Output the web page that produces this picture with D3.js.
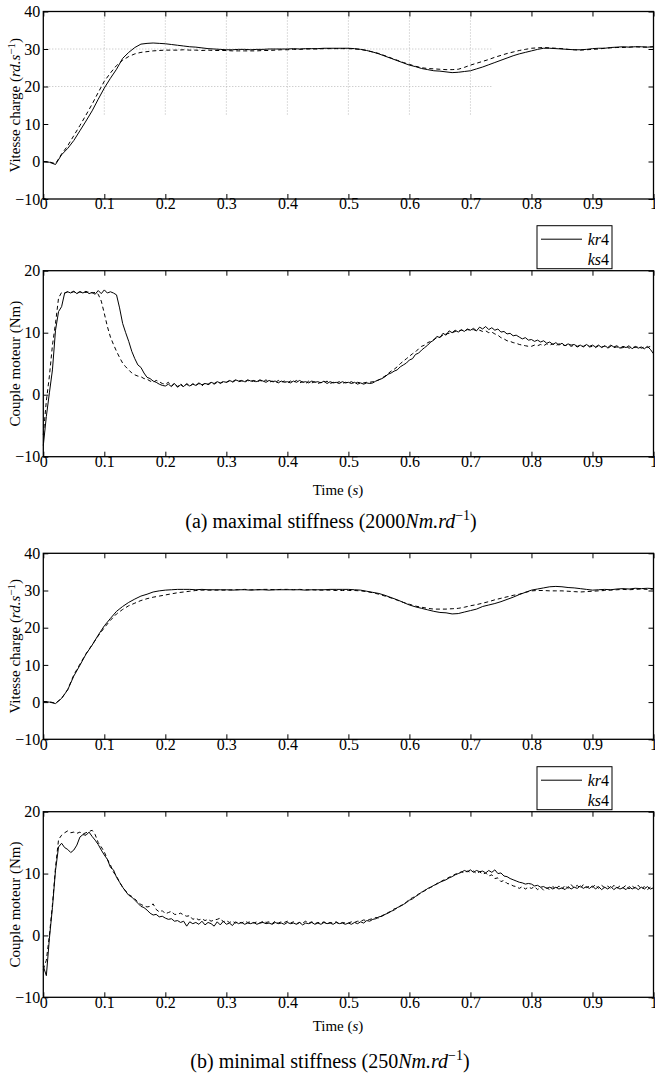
<html>
  <head>
    <meta charset="utf-8">
    <title>Vitesse charge / Couple moteur</title>
    <script type="text/javascript" src="https://cdn.jsdelivr.net/npm/d3@7/dist/d3.min.js" charset="utf-8"></script>
    <style>
      body { margin: 0; background: white; }
      svg text { font-family: "Liberation Serif", "DejaVu Serif", serif; fill: black; }
    </style>
  </head>
  <body>
    <svg id="fig" width="655" height="1077"></svg>
    <script type="text/javascript">
      // ticks
      var timeTicks = [0, 0.1, 0.2, 0.3, 0.4, 0.5, 0.6, 0.7, 0.8, 0.9, 1];
      var timeTickLabels = ["0", "0.1", "0.2", "0.3", "0.4", "0.5", "0.6", "0.7", "0.8", "0.9", "1"];
      var speedTicks = [-10, 0, 10, 20, 30, 40];
      var torqueTicks = [-10, 0, 10, 20];

      // sample steps (s) of the recorded signals
      var speedStep = 0.01;
      var torqueStep = 0.005;

      // odd partial grid of the first plot
      var gridTimes = [0.1, 0.2, 0.3, 0.4, 0.5, 0.6, 0.7];
      var gridSpeeds = [20, 30];
      var gridTimeEnd = 0.737;
      var gridSpeedStart = 12;

      var seriesNames = ["kr4", "ks4"];

      // (a) maximal stiffness - load speed, every 0.01 s
      var speedKrMax = [
        0, -0.2, -0.8, 1.8, 3.5, 5.6, 8.2, 10.8, 13.5, 16.6,
        19.6, 22.2, 24.6, 27.5, 29.1, 30.4, 31.3, 31.5, 31.6, 31.5,
        31.4, 31.2, 31.0, 30.8, 30.6, 30.5, 30.3, 30.1, 30.0, 29.9,
        29.8, 29.8, 29.9, 29.9, 29.8, 29.9, 29.9, 30.0, 30.0, 30.0,
        30.0, 30.1, 30.0, 30.1, 30.1, 30.1, 30.2, 30.2, 30.2, 30.2,
        30.2, 30.1, 29.9, 29.6, 29.2, 28.7, 28.1, 27.5, 26.9, 26.3,
        25.7, 25.3, 24.8, 24.5, 24.2, 24.1, 23.9, 23.7, 23.8, 24.0,
        24.2, 24.7, 25.2, 25.8, 26.4, 27.0, 27.6, 28.2, 28.7, 29.1,
        29.5, 29.9, 30.2, 30.2, 30.1, 30.0, 29.9, 29.8, 29.8, 29.9,
        30.1, 30.2, 30.2, 30.4, 30.5, 30.6, 30.5, 30.6, 30.6, 30.5,
        30.6];
      var speedKsMax = [
        0, -0.1, -0.6, 2.0, 4.2, 6.9, 9.6, 12.4, 15.3, 18.4,
        21.4, 23.6, 25.6, 27.0, 28.0, 28.7, 29.1, 29.3, 29.5, 29.6,
        29.7, 29.7, 29.7, 29.8, 29.7, 29.7, 29.6, 29.7, 29.6, 29.6,
        29.6, 29.5, 29.5, 29.5, 29.5, 29.5, 29.6, 29.6, 29.7, 29.8,
        29.8, 29.9, 29.9, 30.0, 30.0, 30.0, 30.1, 30.1, 30.1, 30.1,
        30.1, 30.0, 29.9, 29.6, 29.2, 28.8, 28.2, 27.6, 27.0, 26.4,
        25.9, 25.4, 25.0, 24.8, 24.7, 24.6, 24.5, 24.5, 24.6, 25.1,
        25.7, 26.2, 26.7, 27.2, 27.8, 28.3, 28.8, 29.2, 29.6, 29.9,
        30.2, 30.3, 30.4, 30.3, 30.2, 30.1, 29.9, 29.8, 29.7, 29.8,
        29.9, 30.0, 30.2, 30.3, 30.4, 30.4, 30.5, 30.6, 30.5, 30.5,
        30.6];

      // (a) maximal stiffness - motor torque, every 0.005 s
      var torqueKrMax = [
        -8.2, -3.5, 0.3, 4.0, 10.4, 13.4, 14.2, 16.4, 16.6, 16.4,
        16.7, 16.3, 16.6, 16.4, 16.7, 16.3, 16.5, 16.2, 16.8, 16.3,
        16.9, 16.4, 16.6, 16.4, 16.1, 14.0, 11.5, 10.0, 8.6, 7.0,
        5.8, 4.8, 4.4, 3.5, 2.8, 2.6, 2.2, 2.0, 1.7, 1.5,
        1.4, 1.7, 1.3, 1.8, 1.2, 1.6, 1.3, 1.8, 1.4, 1.7,
        1.5, 1.9, 1.6, 1.8, 1.7, 2.0, 1.8, 2.1, 1.9, 2.1,
        2.0, 2.3, 2.1, 2.4, 2.2, 2.3, 2.1, 2.4, 2.2, 2.3,
        2.1, 2.4, 2.2, 2.0, 2.3, 2.1, 2.2, 1.9, 2.2, 2.0,
        2.1, 1.9, 2.2, 2.0, 2.3, 2.0, 2.1, 1.9, 2.2, 2.0,
        2.1, 1.9, 2.2, 1.8, 2.1, 1.9, 2.0, 1.8, 2.1, 1.9,
        2.0, 1.8, 2.0, 1.7, 1.9, 1.7, 1.9, 1.8, 1.9, 2.2,
        2.4, 2.6, 2.9, 3.3, 3.5, 3.8, 4.0, 4.5, 4.8, 5.1,
        5.6, 5.8, 6.5, 6.7, 7.2, 7.6, 8.0, 8.5, 8.8, 9.4,
        9.2, 9.9, 9.6, 10.3, 10.0, 10.4, 10.1, 10.5, 10.2, 10.6,
        10.4, 10.7, 10.3, 10.9, 10.6, 11.0, 10.5, 10.8, 10.4, 10.6,
        10.1, 10.2, 9.8, 9.9, 9.5, 9.6, 9.3, 9.0, 9.2, 8.8,
        8.9, 8.6, 8.8, 8.5, 8.7, 8.3, 8.5, 8.1, 8.4, 8.0,
        8.3, 7.9, 8.2, 8.0, 8.1, 7.8, 8.0, 7.7, 8.1, 7.8,
        8.0, 7.7, 8.0, 7.6, 7.9, 7.6, 8.0, 7.7, 7.9, 7.5,
        7.8, 7.6, 7.9, 7.4, 7.8, 7.5, 7.7, 7.4, 7.8, 7.3,
        6.6];
      var torqueKsMax = [
        -6.5, -1.0, 3.0, 8.0, 11.5, 15.6, 16.5, 16.4, 16.6, 16.5,
        16.6, 16.4, 16.6, 16.5, 16.5, 16.6, 16.4, 16.5, 16.2, 15.1,
        13.1, 11.0, 9.3, 8.1, 7.0, 6.0, 5.1, 4.5, 4.0, 3.5,
        3.2, 3.0, 2.9, 2.6, 2.5, 2.2, 2.0, 2.3, 2.1, 1.8,
        1.7, 2.0, 1.4, 1.9, 1.3, 1.8, 1.2, 1.7, 1.3, 1.8,
        1.5, 1.8, 1.4, 1.9, 1.6, 1.9, 1.7, 2.0, 1.8, 2.1,
        2.0, 2.2, 2.0, 2.3, 2.1, 2.2, 2.0, 2.3, 2.1, 2.2,
        2.0, 2.3, 2.1, 2.4, 2.0, 2.2, 1.9, 2.3, 2.0, 2.2,
        1.9, 2.2, 2.0, 2.3, 1.9, 2.1, 1.8, 2.2, 1.9, 2.1,
        1.8, 2.0, 1.9, 2.2, 1.8, 2.0, 1.9, 2.1, 1.8, 2.0,
        1.9, 2.1, 1.8, 2.0, 1.9, 1.9, 2.0, 2.0, 2.1, 2.2,
        2.4, 2.7, 3.0, 3.4, 3.8, 4.1, 4.5, 5.0, 5.4, 5.8,
        6.2, 6.6, 6.9, 7.4, 7.8, 8.0, 8.4, 8.6, 8.9, 9.2,
        9.3, 9.6, 9.8, 9.9, 10.0, 10.2, 10.2, 10.4, 10.3, 10.5,
        10.4, 10.5, 10.3, 10.4, 10.2, 10.3, 10.0, 10.1, 9.8, 9.6,
        9.2, 9.0, 8.7, 8.6, 8.4, 8.3, 8.1, 8.0, 7.9, 7.8,
        7.8, 8.0, 7.9, 8.1, 7.9, 8.2, 8.0, 8.2, 7.9, 8.2,
        8.1, 7.9, 8.1, 7.8, 8.0, 7.7, 7.9, 7.8, 8.0, 7.7,
        7.8, 7.6, 7.9, 7.7, 7.8, 7.5, 7.8, 7.6, 7.7, 7.5,
        7.6, 7.8, 7.5, 7.7, 7.6, 7.8, 7.5, 7.7, 7.6, 7.8,
        7.7];

      // (b) minimal stiffness - load speed, every 0.01 s
      var speedKrMin = [
        0.2, 0.0, -0.4, 1.0, 3.3, 7.0, 9.9, 12.9, 15.3, 18.0,
        20.5, 22.5, 24.4, 25.7, 26.8, 27.7, 28.5, 29.0, 29.6, 29.9,
        30.1, 30.2, 30.3, 30.3, 30.3, 30.2, 30.3, 30.2, 30.2, 30.2,
        30.2, 30.1, 30.2, 30.2, 30.1, 30.2, 30.2, 30.1, 30.2, 30.2,
        30.2, 30.2, 30.2, 30.1, 30.2, 30.2, 30.2, 30.3, 30.3, 30.3,
        30.3, 30.2, 30.1, 29.8, 29.5, 29.2, 28.7, 28.1, 27.5, 26.8,
        26.1, 25.6, 25.2, 24.8, 24.4, 24.1, 24.0, 23.7, 23.8, 24.2,
        24.6, 25.0, 25.7, 26.1, 26.5, 27.0, 27.6, 28.2, 28.9, 29.5,
        30.1, 30.4, 30.7, 31.0, 31.1, 31.0, 30.8, 30.7, 30.5, 30.3,
        30.1, 30.2, 30.3, 30.2, 30.4, 30.5, 30.4, 30.6, 30.5, 30.6,
        30.5];
      var speedKsMin = [
        0.1, 0.1, -0.3, 1.0, 3.4, 7.3, 10.2, 13.0, 15.4, 17.8,
        20.0, 22.0, 23.7, 24.9, 25.9, 26.6, 27.3, 27.8, 28.2, 28.5,
        28.8, 29.1, 29.4, 29.6, 29.8, 30.0, 30.1, 30.1, 30.1, 30.1,
        30.1, 30.2, 30.2, 30.3, 30.2, 30.2, 30.3, 30.3, 30.2, 30.3,
        30.3, 30.2, 30.3, 30.2, 30.2, 30.1, 30.1, 30.1, 30.0, 30.0,
        30.0, 30.0, 29.9, 29.7, 29.4, 29.0, 28.5, 28.0, 27.4, 26.8,
        26.3, 25.8, 25.5, 25.2, 25.0, 25.0, 25.0, 25.1, 25.2, 25.5,
        25.9, 26.2, 26.6, 27.0, 27.5, 27.9, 28.3, 28.7, 29.0, 29.5,
        29.9, 30.0, 30.0, 29.9, 29.9, 29.9, 29.8, 29.7, 29.6, 29.7,
        29.8, 29.9, 30.0, 30.1, 30.2, 30.3, 30.2, 30.3, 30.4, 30.3,
        30.4];

      // (b) minimal stiffness - motor torque, every 0.005 s
      var torqueKrMin = [
        -5.0, -6.5, -0.5, 4.5, 10.5, 14.3, 14.9, 14.2, 13.9, 13.4,
        13.8, 14.6, 15.9, 16.3, 16.2, 16.7, 16.0, 15.4, 14.7, 13.8,
        13.0, 12.3, 11.0, 10.6, 9.4, 8.6, 7.8, 7.1, 6.5, 6.2,
        5.7, 5.2, 4.7, 4.5, 4.1, 3.6, 3.3, 3.4, 3.0, 3.1,
        2.8, 2.6, 2.7, 2.3, 2.4, 2.1, 2.3, 1.5, 2.2, 1.9,
        2.1, 1.8, 2.3, 1.7, 2.1, 1.9, 1.5, 2.2, 1.7, 2.3,
        1.8, 2.0, 1.6, 2.2, 1.9, 2.1, 1.8, 2.0, 1.9, 2.1,
        1.8, 2.0, 2.1, 1.9, 2.0, 1.8, 2.1, 1.9, 2.0, 1.8,
        2.1, 1.9, 2.0, 1.8, 2.1, 1.7, 2.0, 1.9, 2.1, 1.8,
        2.0, 1.8, 2.1, 1.9, 2.0, 1.8, 2.1, 1.9, 2.0, 1.8,
        2.0, 1.8, 2.1, 1.9, 2.2, 2.0, 2.4, 2.3, 2.6, 2.7,
        3.0, 3.1, 3.4, 3.6, 3.9, 4.1, 4.5, 4.7, 5.0, 5.3,
        5.7, 5.9, 6.3, 6.6, 7.0, 7.2, 7.6, 7.8, 8.1, 8.3,
        8.6, 8.8, 9.0, 9.3, 9.5, 9.8, 10.0, 10.2, 10.5, 10.3,
        10.6, 10.2, 10.5, 10.3, 10.4, 10.1, 10.5, 10.2, 10.6, 10.0,
        10.1, 9.6, 9.5, 9.2, 9.0, 8.8, 8.6, 8.5, 8.3, 8.4,
        8.3, 8.0, 8.1, 7.8, 7.9, 7.6, 7.8, 7.5, 7.8, 7.5,
        7.7, 7.4, 7.9, 7.5, 7.8, 7.6, 8.0, 7.6, 7.9, 7.6,
        8.0, 7.5, 7.9, 7.4, 7.8, 7.5, 7.9, 7.4, 7.8, 7.5,
        7.7, 7.4, 7.9, 7.5, 7.8, 7.4, 7.8, 7.5, 7.9, 7.5,
        7.7];
      var torqueKsMin = [
        -5.5, -4.0, 0.0, 5.0, 11.0, 15.5, 16.2, 16.6, 16.9, 16.6,
        16.7, 16.5, 16.7, 16.4, 16.6, 16.8, 17.0, 16.3, 15.0, 14.3,
        13.5, 12.3, 11.4, 10.2, 9.6, 8.6, 7.8, 7.2, 6.6, 6.3,
        5.9, 5.4, 5.0, 4.8, 4.6, 4.7, 5.1, 4.2, 3.8, 4.0,
        3.5, 3.7, 3.9, 3.4, 3.4, 3.6, 3.3, 3.1, 3.2, 2.6,
        2.8, 2.5, 2.7, 2.4, 2.6, 2.3, 2.5, 2.6, 2.8, 2.2,
        2.4, 2.1, 2.3, 2.0, 2.2, 2.0, 2.3, 2.1, 2.2, 2.0,
        2.2, 2.0, 2.3, 2.1, 2.2, 1.9, 2.3, 2.0, 2.2, 2.1,
        2.3, 2.0, 2.2, 1.9, 2.1, 2.0, 2.3, 2.0, 2.2, 1.9,
        2.1, 2.0, 2.2, 1.9, 2.1, 2.0, 2.2, 1.9, 2.1, 2.0,
        2.0, 2.2, 2.1, 2.3, 2.3, 2.5, 2.4, 2.6, 2.7, 2.9,
        2.8, 3.2, 3.4, 3.7, 3.9, 4.3, 4.4, 4.8, 5.0, 5.4,
        5.8, 6.1, 6.3, 6.7, 6.9, 7.3, 7.5, 7.8, 8.0, 8.4,
        8.6, 8.9, 9.1, 9.4, 9.6, 9.9, 10.0, 10.3, 10.1, 10.4,
        10.2, 10.4, 10.0, 10.3, 9.9, 10.1, 9.6, 9.8, 9.2, 9.3,
        8.7, 8.9, 8.4, 8.3, 8.0, 7.9, 7.6, 7.9, 7.5, 7.8,
        7.6, 7.9, 7.4, 7.8, 7.3, 7.7, 7.4, 7.9, 7.5, 8.0,
        7.5, 8.1, 7.6, 8.2, 7.7, 8.1, 7.6, 8.2, 7.7, 8.0,
        7.8, 8.2, 7.6, 8.1, 7.7, 8.0, 7.5, 8.1, 7.6, 8.0,
        7.7, 8.1, 7.5, 8.0, 7.6, 8.1, 7.5, 7.9, 7.4, 7.8,
        7.6];

      function ready(fn) {
        if (document.readyState != 'loading'){ fn() }
        else { document.addEventListener('DOMContentLoaded', fn) }
      }
      ready(function() {
        var svg = d3.select("#fig");
        var left = 43.3, right = 653.5;
        var x = d3.scaleLinear().domain([0, 1]).range([left, right]);

        drawPanel(svg, x, { top: 11.5, bottom: 199, domain: [-10, 40], ticks: speedTicks,
          label: "speed", kr: speedKrMax, ks: speedKsMax, step: speedStep, grid: true });
        drawPanel(svg, x, { top: 270.7, bottom: 456.7, domain: [-10, 20], ticks: torqueTicks,
          label: "torque", kr: torqueKrMax, ks: torqueKsMax, step: torqueStep, legend: true });
        drawPanel(svg, x, { top: 553.3, bottom: 739.3, domain: [-10, 40], ticks: speedTicks,
          label: "speed", kr: speedKrMin, ks: speedKsMin, step: speedStep });
        drawPanel(svg, x, { top: 811.7, bottom: 997.3, domain: [-10, 20], ticks: torqueTicks,
          label: "torque", kr: torqueKrMin, ks: torqueKsMin, step: torqueStep, legend: true });

        timeLabel(svg, 338, 495);
        timeLabel(svg, 338, 1031);
        caption(svg, 331, 528, "(a) maximal stiffness (", "2000");
        caption(svg, 330, 1068, "(b) minimal stiffness (", "250");
      });

      function drawPanel(svg, x, p) {
        var y = d3.scaleLinear().domain(p.domain).range([p.bottom, p.top]);
        var g = svg.append("g");

        if (p.grid) {
          var grid = g.append("g")
              .attr("stroke", "#aaa")
              .attr("stroke-width", 0.8)
              .attr("stroke-dasharray", "1,2");
          grid.selectAll("line.gx").data(gridTimes).enter().append("line")
              .attr("x1", function(d) { return x(d); }).attr("x2", function(d) { return x(d); })
              .attr("y1", y(40)).attr("y2", y(gridSpeedStart));
          grid.selectAll("line.gy").data(gridSpeeds).enter().append("line")
              .attr("x1", x(0)).attr("x2", x(gridTimeEnd))
              .attr("y1", function(d) { return y(d); }).attr("y2", function(d) { return y(d); });
        }

        // curves
        var series = [
          { values: p.ks, dash: "4,3" },
          { values: p.kr, dash: null }
        ];
        var line = d3.line()
            .x(function(d, i) { return x(i * p.step); })
            .y(function(d) { return y(d); });
        g.selectAll("path.curve").data(series).enter().append("path")
            .attr("class", "curve")
            .attr("fill", "none")
            .attr("stroke", "black")
            .attr("stroke-width", 1)
            .attr("stroke-linejoin", "round")
            .attr("stroke-dasharray", function(d) { return d.dash; })
            .attr("d", function(d) { return line(d.values); });

        // axes, ticks pointing inwards on all four sides
        var bottomAxis = d3.axisBottom(x).tickValues(timeTicks)
            .tickFormat(function(d, i) { return timeTickLabels[i]; })
            .tickSizeInner(-5).tickSizeOuter(0).tickPadding(-1);
        var leftAxis = d3.axisLeft(y).tickValues(p.ticks)
            .tickFormat(function(d) { return d < 0 ? "\u2212" + Math.abs(d) : "" + d; })
            .tickSizeInner(-5).tickSizeOuter(0).tickPadding(3);
        var topAxis = d3.axisTop(x).tickValues(timeTicks).tickFormat("")
            .tickSizeInner(-5).tickSizeOuter(0);
        var rightAxis = d3.axisRight(y).tickValues(p.ticks).tickFormat("")
            .tickSizeInner(-5).tickSizeOuter(0);

        [[bottomAxis, "translate(0," + p.bottom + ")"],
         [leftAxis, "translate(" + x(0) + ",0)"],
         [topAxis, "translate(0," + p.top + ")"],
         [rightAxis, "translate(" + x(1) + ",0)"]].forEach(function(a) {
          var ax = g.append("g").attr("transform", a[1]).call(a[0]);
          ax.select(".domain").remove();
          ax.selectAll("line").attr("stroke", "black").attr("stroke-width", 1);
          ax.selectAll("text")
              .attr("font-family", "Liberation Serif, serif")
              .attr("font-size", 16)
              .attr("fill", "black");
        });

        g.append("rect")
            .attr("x", x(0)).attr("y", p.top)
            .attr("width", x(1) - x(0)).attr("height", p.bottom - p.top)
            .attr("fill", "none").attr("stroke", "black").attr("stroke-width", 1.3);

        // y label
        var cy = (p.top + p.bottom) / 2;
        var lab = g.append("text")
            .attr("transform", "translate(20," + cy + ") rotate(-90)")
            .attr("text-anchor", "middle")
            .attr("font-size", 15);
        if (p.label == "speed") {
          lab.append("tspan").text("Vitesse charge (");
          lab.append("tspan").attr("font-style", "italic").text("rd.s");
          lab.append("tspan").attr("font-size", 11).attr("dy", -5).text("\u22121");
          lab.append("tspan").attr("dy", 5).text(")");
        } else {
          lab.text("Couple moteur (Nm)");
        }

        if (p.legend) {
          var lg = g.append("g").attr("transform", "translate(537," + (p.top - 45) + ")");
          lg.append("rect").attr("width", 75).attr("height", 43)
              .attr("fill", "white").attr("stroke", "black").attr("stroke-width", 1);
          lg.append("line").attr("x1", 4).attr("x2", 45).attr("y1", 13.5).attr("y2", 13.5)
              .attr("stroke", "black").attr("stroke-width", 1);
          lg.selectAll("text").data(seriesNames).enter().append("text")
              .attr("x", 72)
              .attr("y", function(d, i) { return 19 + i * 20; })
              .attr("text-anchor", "end")
              .attr("font-size", 16)
              .each(function(d) {
                var t = d3.select(this);
                t.append("tspan").attr("font-style", "italic").text(d.slice(0, 2));
                t.append("tspan").text(d.slice(2));
              });
        }
      }

      function timeLabel(svg, cx, y) {
        var t = svg.append("text").attr("x", cx).attr("y", y)
            .attr("text-anchor", "middle").attr("font-size", 15);
        t.append("tspan").text("Time (");
        t.append("tspan").attr("font-style", "italic").text("s");
        t.append("tspan").text(")");
      }

      function caption(svg, cx, y, head, num) {
        var t = svg.append("text").attr("x", cx).attr("y", y)
            .attr("text-anchor", "middle").attr("font-size", 20);
        t.append("tspan").text(head + num);
        t.append("tspan").attr("font-style", "italic").text("Nm.rd");
        t.append("tspan").attr("font-size", 14).attr("dy", -8).text("\u22121");
        t.append("tspan").attr("dy", 8).text(")");
      }
    </script>
  </body>
</html>
